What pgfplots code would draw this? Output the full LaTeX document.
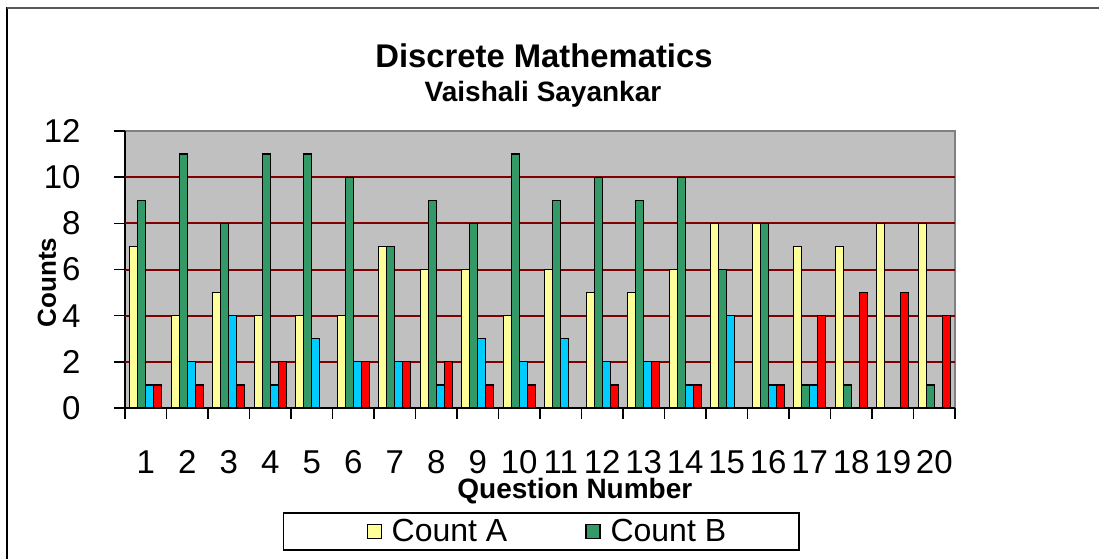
\documentclass[border=0pt]{standalone}
\usepackage{pgfplots}
\pgfplotsset{compat=1.18}
\usepackage{pgfplotstable}
\usepackage{fontspec}
\setmainfont{Liberation Sans}
\definecolor{cA}{RGB}{255,255,153}
\definecolor{cB}{RGB}{51,153,102}
\definecolor{cC}{RGB}{0,204,255}
\definecolor{cD}{RGB}{255,0,0}
\definecolor{bgc}{RGB}{192,192,192}
\definecolor{framec}{RGB}{128,128,128}
\definecolor{gridc}{RGB}{128,0,0}
\pgfplotstableread{
q A B C D
1 7 9 1 1
2 4 11 2 1
3 5 8 4 1
4 4 11 1 2
5 4 11 3 0
6 4 10 2 2
7 7 7 2 2
8 6 9 1 2
9 6 8 3 1
10 4 11 2 1
11 6 9 3 0
12 5 10 2 1
13 5 9 2 2
14 6 10 1 1
15 8 6 4 0
16 8 8 1 1
17 7 1 1 4
18 7 1 0 5
19 8 0 0 5
20 8 1 0 4
}\datatable
\pgfplotsset{myleg/.style={legend image code/.code={\path (0pt,0pt); \draw[##1, line width=0.6pt] (5pt,-3.5pt) rectangle (12pt,3.5pt);}}}
\begin{document}
\begin{tikzpicture}
\useasboundingbox (0,0) rectangle (549.5pt,279pt);
\draw[black, line width=1pt] (3.5pt,-5pt) -- (3.5pt,275.4pt);
\draw[black!65, line width=0.8pt] (3.5pt,275pt) -- (560pt,275pt);
\begin{axis}[
  at={(62.5pt,75pt)}, anchor=south west, scale only axis,
  width=415pt, height=138.5pt,
  ybar=0pt, bar width=4pt,
  xmin=0.5, xmax=20.5, ymin=0, ymax=12,
  axis background/.style={fill=bgc, draw=framec, line width=0.8pt},
  axis x line*=bottom, axis y line*=left,
  axis line style={black, line width=0.8pt, -},
  tick align=outside, major tick length=5.5pt,
  tick style={black, line width=0.8pt},
  xtick={0.5,1.5,2.5,3.5,4.5,5.5,6.5,7.5,8.5,9.5,10.5,11.5,12.5,13.5,14.5,15.5,16.5,17.5,18.5,19.5,20.5},
  xticklabels={},
  extra x ticks={1,2,3,4,5,6,7,8,9,10,11,12,13,14,15,16,17,18,19,20},
  extra x tick labels={1,2,3,4,5,6,7,8,9,10,11,12,13,14,15,16,17,18,19,20},
  extra x tick style={major tick length=0pt},
  xtick pos=bottom,
  xticklabel style={anchor=center, yshift=-27pt, inner sep=0pt},
  ytick={0,2,4,6,8,10,12}, ytick pos=left,
  extra y ticks={2,4,6,8,10}, extra y tick labels={},
  extra y tick style={major tick length=0pt, ymajorgrids=true, major grid style={gridc, line width=1pt}},
  yticklabel style={anchor=east, inner sep=0pt, xshift=-16.5pt},
  /pgf/number format/assume math mode=true,
  tick label style={font=\fontsize{16.5}{19}\selectfont},
  xlabel={Question Number},
  xlabel style={at={(axis description cs:0.542,-0.3285)}, anchor=base, inner sep=0pt, font=\bfseries\fontsize{14}{17}\selectfont},
  ylabel={Counts},
  ylabel style={at={(axis description cs:-0.094,0.453)}, anchor=center, inner sep=0pt, font=\bfseries\fontsize{13}{16}\selectfont},
  legend columns=2,
  legend cell align=left,
  legend style={at={(axis description cs:0.190,-0.3755)}, anchor=north west,
    draw=black, line width=0.8pt, fill=white,
    font=\fontsize{16}{19}\selectfont,
    inner xsep=36.5pt, inner ysep=3pt,
    /tikz/every odd column/.append style={column sep=5pt},
    /tikz/every even column/.append style={column sep=34pt},
    nodes={inner sep=0pt}},
]
\addplot[fill=cA, draw=black, line width=0.6pt, myleg] table[x=q,y=A]{\datatable};
\addplot[fill=cB, draw=black, line width=0.6pt, myleg] table[x=q,y=B]{\datatable};
\addplot[fill=cC, draw=black, line width=0.6pt, myleg] table[x=q,y=C]{\datatable};
\addplot[fill=cD, draw=black, line width=0.6pt, myleg] table[x=q,y=D]{\datatable};
\legend{Count A, Count B}
\end{axis}
\node[anchor=base, inner sep=0pt, font=\bfseries\fontsize{16.4}{20}\selectfont] at (272pt,245pt) {Discrete Mathematics};
\node[anchor=base, inner sep=0pt, font=\bfseries\fontsize{14}{17}\selectfont] at (271.5pt,228pt) {Vaishali Sayankar};
\end{tikzpicture}
\end{document}
